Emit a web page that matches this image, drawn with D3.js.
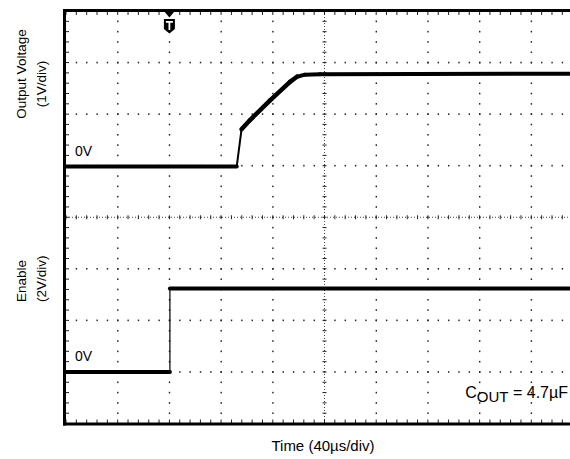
<!DOCTYPE html>
<html><head><meta charset="utf-8">
<script src="https://cdn.jsdelivr.net/npm/d3@7"></script>
<style>
body{margin:0;background:#fff}
svg{display:block}
text{font-family:"Liberation Sans",Arial,Helvetica,sans-serif;fill:#000}
</style>
</head><body>
<svg id="chart" width="570" height="459"></svg>
<script>
// ---- data (time in µs, volts) ----
const outTime = [0, 132.1, 135.8, 142.4, 157.9, 173.3, 178.7, 184.9, 196.5, 400];
const outVolt = [0, 0, 0.72, 0.90, 1.28, 1.64, 1.74, 1.78, 1.79, 1.80];
const enTime  = [0, 80.4, 80.4, 400];
const enVolt  = [0, 0, 3.24, 3.24];
const triggerTime = 80;
const timeMajor = d3.range(0, 401, 40);
const timeMinor = d3.range(0, 401, 8);
const divMajor = d3.range(-4, 5, 1);
const divMinor = d3.range(-4, 4.001, 0.2).map(v => +v.toFixed(2));
const outZeroDiv = 0.985, outVoltsPerDiv = 1;
const enZeroDiv = -3, enVoltsPerDiv = 2;
const yLabelsTop = ["Output Voltage", "(1V/div)"];
const yLabelsBottom = ["Enable", "(2V/div)"];
const xLabel = "Time (40µs/div)";

const svg = d3.select("#chart");
const x = d3.scaleLinear().domain([0, 400]).range([66, 583]);
const yDiv = d3.scaleLinear().domain([-4, 4]).range([423.5, 11]);
const yOut = v => yDiv(outZeroDiv + v / outVoltsPerDiv);
const yEn = v => yDiv(enZeroDiv + v / enVoltsPerDiv);

const g = svg.append("g");

// grid dots on vertical major lines
const vLines = timeMajor.filter(t => t > 0 && t < 400 && t !== 200);
vLines.forEach(t => {
  g.selectAll(null).data(divMinor.filter(v => v > -4 && v < 4)).enter().append("rect")
    .attr("x", x(t) - 0.6).attr("y", d => yDiv(d) - 0.75)
    .attr("width", 1.4).attr("height", 1.6).attr("fill", "#222");
});
// grid dots on horizontal major lines
const hLines = divMajor.filter(v => v > -4 && v < 4 && v !== 0);
hLines.forEach(v => {
  g.selectAll(null).data(timeMinor.filter(t => t > 0)).enter().append("rect")
    .attr("x", d => x(d) - 0.6).attr("y", yDiv(v) - 0.8)
    .attr("width", 1.4).attr("height", 1.6).attr("fill", "#222");
});
// center lines
g.append("line").attr("x1", x(200)).attr("x2", x(200)).attr("y1", yDiv(4)).attr("y2", yDiv(-4))
  .attr("stroke", "#444").attr("stroke-width", 1).attr("stroke-dasharray", "1,2");
g.append("line").attr("x1", x(0)).attr("x2", 570).attr("y1", yDiv(0)).attr("y2", yDiv(0))
  .attr("stroke", "#444").attr("stroke-width", 1).attr("stroke-dasharray", "1,2");
g.selectAll(null).data(divMinor).enter().append("line")
  .attr("x1", x(200) - 2).attr("x2", x(200) + 2).attr("y1", d => yDiv(d)).attr("y2", d => yDiv(d))
  .attr("stroke", "#222").attr("stroke-width", 1);
g.selectAll(null).data(timeMinor).enter().append("line")
  .attr("x1", d => x(d)).attr("x2", d => x(d)).attr("y1", yDiv(0) - 2).attr("y2", yDiv(0) + 2)
  .attr("stroke", "#222").attr("stroke-width", 1);

// border ticks
g.selectAll(null).data(timeMinor).enter().append("line")
  .attr("x1", d => x(d)).attr("x2", d => x(d)).attr("y1", yDiv(4)).attr("y2", yDiv(4) + 4)
  .attr("stroke", "#222").attr("stroke-width", 1);
g.selectAll(null).data(timeMinor).enter().append("line")
  .attr("x1", d => x(d)).attr("x2", d => x(d)).attr("y1", yDiv(-4)).attr("y2", yDiv(-4) - 4)
  .attr("stroke", "#222").attr("stroke-width", 1);
g.selectAll(null).data(divMinor).enter().append("line")
  .attr("x1", x(0)).attr("x2", x(0) + 3).attr("y1", d => yDiv(d)).attr("y2", d => yDiv(d))
  .attr("stroke", "#222").attr("stroke-width", 1);

// traces: draw segment by segment; steep edges are drawn thin, the rest as a thick noisy band
function drawTrace(times, volts, yFn) {
  const pts = times.map((t, i) => [x(t), yFn(volts[i])]);
  const segs = d3.pairs(pts);
  g.selectAll(null).data(segs).enter().append("line")
    .attr("x1", d => d[0][0]).attr("y1", d => d[0][1])
    .attr("x2", d => d[1][0]).attr("y2", d => d[1][1])
    .attr("stroke", "#000")
    .attr("stroke-linecap", "round")
    .attr("stroke-width", d => {
      const dx = Math.abs(d[1][0] - d[0][0]), dy = Math.abs(d[1][1] - d[0][1]);
      if (dx < 0.5) return 1.2;
      if (dy / dx > 3) return 2;
      return dy / dx > 0.3 ? 4.5 : 4;
    });
}
drawTrace(outTime, outVolt, yOut);
drawTrace(enTime, enVolt, yEn);

// frame
g.append("line").attr("x1", 64.5).attr("x2", 64.5).attr("y1", 9).attr("y2", 425.5)
  .attr("stroke", "#000").attr("stroke-width", 3);
g.append("line").attr("x1", 63).attr("x2", 570).attr("y1", 10.5).attr("y2", 10.5)
  .attr("stroke", "#000").attr("stroke-width", 3);
g.append("line").attr("x1", 63).attr("x2", 570).attr("y1", 424).attr("y2", 424)
  .attr("stroke", "#000").attr("stroke-width", 3);

// trigger marker
const tx = x(triggerTime);
g.append("path").attr("d", `M${tx - 5.5},11 L${tx + 5.5},11 L${tx},17.5 Z`).attr("fill", "#000");
g.append("path").attr("d", `M${tx - 5.5},19 h11 v10 l-5.5,4.5 l-5.5,-4.5 Z`).attr("fill", "#000");
g.append("rect").attr("x", tx - 3.5).attr("y", 21).attr("width", 7).attr("height", 1.8).attr("fill", "#fff");
g.append("rect").attr("x", tx - 0.9).attr("y", 21).attr("width", 1.8).attr("height", 9).attr("fill", "#fff");

// texts
svg.append("text").attr("x", 75).attr("y", 156).attr("font-size", 14).text("0V");
svg.append("text").attr("x", 75).attr("y", 361).attr("font-size", 14).text("0V");
const c = svg.append("text").attr("x", 568).attr("y", 398).attr("font-size", 16).attr("text-anchor", "end");
c.append("tspan").text("C");
c.append("tspan").attr("font-size", 15).attr("dy", 4).text("OUT");
c.append("tspan").attr("dy", -4).text(" = 4.7µF");

svg.append("text").attr("x", 323).attr("y", 450.5).attr("font-size", 15).attr("text-anchor", "middle").text(xLabel);

svg.append("text").attr("transform", "translate(26,74) rotate(-90)").attr("font-size", 13.5)
  .attr("text-anchor", "middle").text(yLabelsTop[0]);
svg.append("text").attr("transform", "translate(46,84) rotate(-90)").attr("font-size", 13.5)
  .attr("text-anchor", "middle").text(yLabelsTop[1]);
svg.append("text").attr("transform", "translate(26,302) rotate(-90)").attr("font-size", 13.5)
  .attr("text-anchor", "start").text(yLabelsBottom[0]);
svg.append("text").attr("transform", "translate(46,302) rotate(-90)").attr("font-size", 13.5)
  .attr("text-anchor", "start").text(yLabelsBottom[1]);
</script>
</body></html>
